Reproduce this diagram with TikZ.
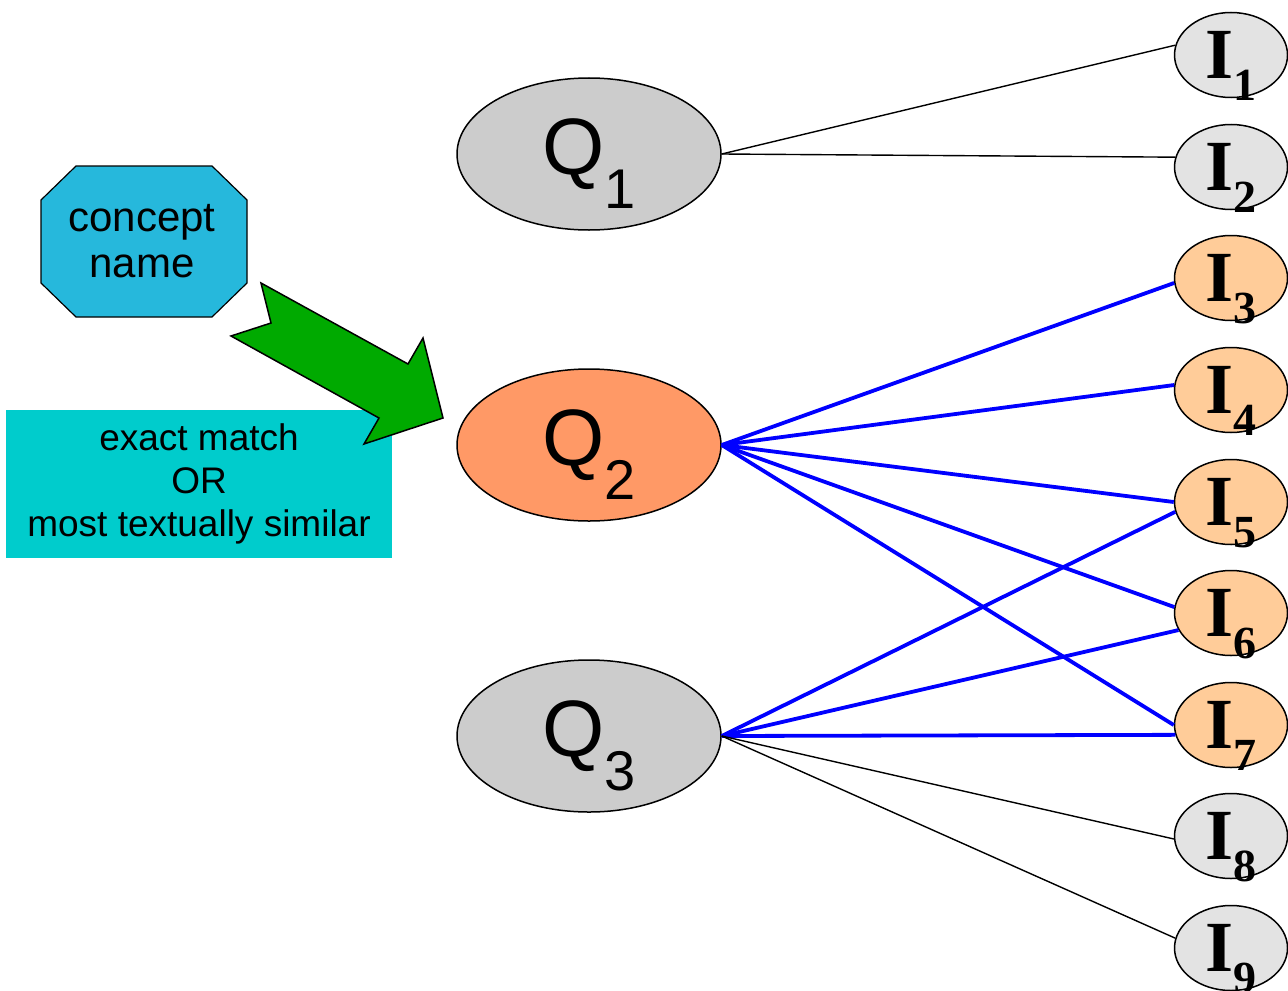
\documentclass[tikz,border=0pt]{standalone}
\usepackage{fontspec}
\setmainfont{Liberation Sans}
\newfontfamily\itemfont{Liberation Serif}
\usetikzlibrary{shapes.geometric}
\definecolor{qgray}{RGB}{204,204,204}
\definecolor{qorange}{RGB}{255,153,102}
\definecolor{igray}{RGB}{227,227,227}
\definecolor{ipeach}{RGB}{255,204,153}
\definecolor{conceptblue}{RGB}{38,184,220}
\definecolor{matchcyan}{RGB}{0,204,204}
\definecolor{arrowgreen}{RGB}{0,170,0}
\definecolor{linkblue}{RGB}{0,0,255}
\newcommand{\qlab}[1]{\fontsize{40}{40}\selectfont Q\raisebox{-17pt}[0pt][0pt]{\fontsize{28}{28}\selectfont #1}}
\newcommand{\ilab}[1]{\itemfont\bfseries\fontsize{36}{36}\selectfont I\raisebox{-11pt}[0pt][0pt]{\fontsize{23}{23}\selectfont #1}}
\tikzset{%
        x = 0.5pt,
        y = -0.5pt
}
\tikzstyle{query}=[
    ellipse,
    draw = black,
    line width = 0.75pt,
    minimum width = 132pt,
    minimum height = 76pt,
    inner sep = 0pt
]
\tikzstyle{item}=[
    ellipse,
    draw = black,
    line width = 0.75pt,
    minimum width = 56.5pt,
    minimum height = 42.5pt,
    inner sep = 0pt
]
\tikzstyle{concept}=[
    inner sep = 0pt,
    align = center,
    font = \fontsize{21}{23}\selectfont
]
\tikzstyle{match}=[
    rectangle,
    fill = matchcyan,
    minimum width = 193pt,
    minimum height = 74pt,
    inner sep = 0pt,
    align = center,
    font = \fontsize{18.5}{21.5}\selectfont
]
\tikzstyle{plain link}=[
    draw = black,
    line width = 0.7pt
]
\tikzstyle{match link}=[
    draw = linkblue,
    line width = 1.9pt
]

\begin{document}
\begin{tikzpicture}
            \useasboundingbox (0,0) rectangle (1288,990);
            % octagon behind the concept text
            \filldraw[fill=conceptblue, line width=0.6pt] (76,166) -- (212,166) -- (247,200) -- (247,283)
                -- (212,317) -- (76,317) -- (41,283) -- (41,200) -- cycle;
            \node[concept] (concept) at (142,241) {concept\\name};
            \node[match] (match) at (199,484) {exact match\\OR\\most textually similar};
            \filldraw[fill=arrowgreen, line width=0.75pt] (261,283) -- (271,323) -- (231,336) -- (379,418)
                -- (364,444) -- (443,418) -- (423,338) -- (408,364) -- cycle;
            \node[query, fill=qgray] (Q1) at (589,154) {\qlab{1}};
            \node[query, fill=qorange] (Q2) at (589,445) {\qlab{2}};
            \node[query, fill=qgray] (Q3) at (589,736) {\qlab{3}};
            \node[item, fill=igray] (I1) at (1231,55) {\ilab{1}};
            \node[item, fill=igray] (I2) at (1231,167) {\ilab{2}};
            \node[item, fill=ipeach] (I3) at (1231,278) {\ilab{3}};
            \node[item, fill=ipeach] (I4) at (1231,390) {\ilab{4}};
            \node[item, fill=ipeach] (I5) at (1231,502) {\ilab{5}};
            \node[item, fill=ipeach] (I6) at (1231,613) {\ilab{6}};
            \node[item, fill=ipeach] (I7) at (1231,725) {\ilab{7}};
            \node[item, fill=igray] (I8) at (1231,836) {\ilab{8}};
            \node[item, fill=igray] (I9) at (1231,948) {\ilab{9}};
            \path
            (Q1.east)
            edge[plain link] (I1.170)
            edge[plain link] (I2.170)
            (Q2.east)
            edge[match link] (I3.185)
            edge[match link] (I4.175)
            edge[match link] (I5.180)
            edge[match link] (I6.174)
            edge[match link] (I7.180)
            (Q3.east)
            edge[match link] (I5.190)
            edge[match link] (I6.198)
            edge[match link] (I7.190)
            edge[plain link] (I8.183)
            edge[plain link] (I9.170)
            ;
        \end{tikzpicture}
\end{document}
